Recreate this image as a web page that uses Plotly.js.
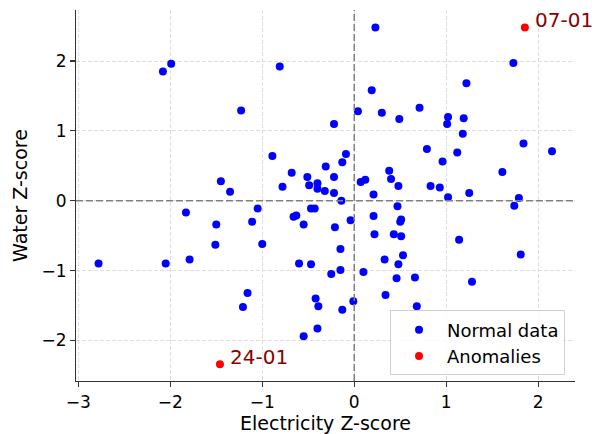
<!DOCTYPE html>
<html>
<head>
<meta charset="utf-8">
<script src="https://cdn.plot.ly/plotly-3.0.1.min.js"></script>
<style>html,body{margin:0;padding:0;background:#fff;}#chart{width:612px;height:434px;}</style>
</head>
<body>
<div id="chart"></div>
<script>
// Normal data points (Electricity Z-score, Water Z-score)
const normalX = [-1.99,-2.08,-1.23,0.23,-0.81,0.19,0.04,0.30,0.49,-0.22,
  1.73,1.22,0.71,1.02,1.01,1.19,1.18,
  -1.45,-1.35,-1.83,-1.50,-1.51,-1.79,
  -0.89,-0.09,-0.13,-0.68,-0.31,-0.51,-0.22,-0.78,-0.49,-0.40,-0.40,-0.32,-0.22,-0.14,
  0.07,0.12,0.21,0.38,0.40,0.48,0.47,-1.05,-1.11,-0.47,-0.43,-0.66,-0.63,-0.55,-0.21,-0.04,
  0.21,0.51,0.50,-1.00,0.22,0.43,0.51,-0.15,0.33,0.53,
  1.84,2.15,0.79,1.12,0.96,1.61,0.83,0.93,1.25,1.02,1.79,1.74,1.14,1.81,
  -2.78,-2.05,-1.21,-1.16,
  -0.60,-0.47,-0.25,-0.15,0.10,0.48,0.46,0.34,-0.42,-0.39,-0.13,-0.01,-0.40,-0.55,
  0.66,1.28,0.68];
const normalY = [1.96,1.85,1.29,2.48,1.92,1.58,1.28,1.26,1.17,1.10,
  1.97,1.68,1.33,1.20,1.10,1.18,0.96,
  0.28,0.13,-0.17,-0.34,-0.63,-0.84,
  0.64,0.67,0.55,0.40,0.49,0.34,0.34,0.20,0.22,0.25,0.17,0.14,0.11,0.00,
  0.27,0.30,0.09,0.43,0.31,0.21,-0.08,-0.11,-0.30,-0.11,-0.11,-0.23,-0.21,-0.34,-0.38,-0.28,
  -0.22,-0.27,-0.30,-0.62,-0.48,-0.48,-0.51,-0.69,-0.84,-0.78,
  0.82,0.71,0.74,0.69,0.56,0.41,0.21,0.19,0.11,0.05,0.04,-0.07,-0.56,-0.77,
  -0.90,-0.90,-1.52,-1.32,
  -0.90,-0.91,-1.05,-0.99,-1.02,-0.91,-1.11,-1.35,-1.40,-1.51,-1.56,-1.44,-1.83,-1.94,
  -1.10,-1.16,-1.51];
// Anomalies
const anomX = [1.855,-1.46];
const anomY = [2.48,-2.34];
const anomLabels = ["07-01","24-01"];

const xTicks = [-3,-2,-1,0,1,2];
const yTicks = [-2,-1,0,1,2];

const traces = [
  {x: normalX, y: normalY, mode: 'markers', type: 'scatter', name: 'Normal data',
   marker: {color: '#0000ff', size: 8}},
  {x: anomX, y: anomY, mode: 'markers', type: 'scatter', name: 'Anomalies',
   marker: {color: '#ff0000', size: 8}}
];

const font = {family: 'DejaVu Sans, sans-serif', color: '#000'};
const fmt = v => v < 0 ? '\u2212' + Math.abs(v) : String(v);

const axisCommon = {
  showline: true, linecolor: '#333', linewidth: 1.1, mirror: false,
  ticks: 'outside', ticklen: 5, tickcolor: '#333', tickwidth: 1.1,
  showgrid: true, gridcolor: '#dedede', griddash: '4px,2px', gridwidth: 1,
  zeroline: false, tickfont: {family: font.family, size: 17, color: '#000'}
};

const layout = {
  width: 612, height: 434,
  margin: {l: 76, r: 37, t: 10, b: 53},
  paper_bgcolor: '#fff', plot_bgcolor: '#fff',
  font: font,
  showlegend: true,
  legend: {x: 0.98, xanchor: 'right', y: 0.015, yanchor: 'bottom',
    bgcolor: 'rgba(255,255,255,0.8)', bordercolor: '#d0d0d0', borderwidth: 1,
    itemwidth: 46,
    font: {family: font.family, size: 18, color: '#000'}},
  xaxis: Object.assign({}, axisCommon, {range: [-3.025, 2.40], tickvals: xTicks, ticktext: xTicks.map(fmt),
    title: {text: 'Electricity Z-score', font: {family: font.family, size: 19}, standoff: 5}}),
  yaxis: Object.assign({}, axisCommon, {range: [-2.58, 2.73], tickvals: yTicks, ticktext: yTicks.map(fmt),
    title: {text: 'Water Z-score', font: {family: font.family, size: 19}, standoff: 8}}),
  shapes: [
    {type: 'line', xref: 'x', yref: 'paper', x0: 0, x1: 0, y0: 0, y1: 1,
     line: {color: '#808080', width: 1.5, dash: '7px,3px'}},
    {type: 'line', xref: 'paper', yref: 'y', x0: 0, x1: 1, y0: 0, y1: 0,
     line: {color: '#808080', width: 1.5, dash: '7px,3px'}}
  ],
  annotations: anomLabels.map((t, i) => ({
    x: anomX[i], y: anomY[i], xref: 'x', yref: 'y', text: t, showarrow: false,
    xanchor: 'left', yanchor: 'bottom', xshift: 8, yshift: -7,
    font: {family: font.family, size: 20, color: '#8b0000'}
  }))
};

Plotly.newPlot('chart', traces, layout, {displayModeBar: false, staticPlot: true});
</script>
</body>
</html>
